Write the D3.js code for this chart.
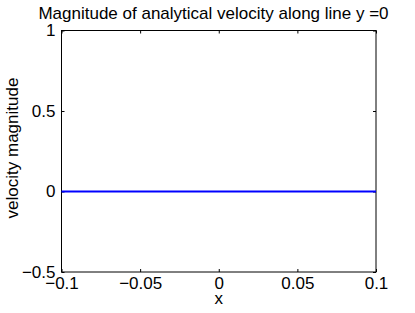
<!DOCTYPE html>
<html>
<head>
<meta charset="utf-8">
<script src="https://cdn.jsdelivr.net/npm/d3@7"></script>
<style>
  body { margin: 0; background: #fff; }
  text { font-family: "Liberation Sans", Arial, sans-serif; fill: #000; }
</style>
</head>
<body>
<div id="container"></div>
<script>
// data
var xValues = [-0.1, -0.05, 0, 0.05, 0.1];
var velocity = [0, 0, 0, 0, 0];
var xTicks = [-0.1, -0.05, 0, 0.05, 0.1];
var yTicks = [-0.5, 0, 0.5, 1];

var width = 415;
var height = 313;
var margin = { top: 30.5, right: 39, bottom: 41, left: 61.5 };

var svg = d3.select("#container")
    .append("svg")
    .attr("width", width)
    .attr("height", height);

var x = d3.scaleLinear()
    .domain([-0.1, 0.1])
    .range([margin.left, width - margin.right]);

var y = d3.scaleLinear()
    .domain([-0.5, 1])
    .range([height - margin.bottom, margin.top]);

function fmt(d) {
    return String(d).replace("-", "\u2212");
}

// axes box
svg.append("rect")
    .attr("x", x(-0.1))
    .attr("y", y(1))
    .attr("width", x(0.1) - x(-0.1))
    .attr("height", y(-0.5) - y(1))
    .attr("fill", "none")
    .attr("stroke", "#000")
    .attr("stroke-width", 1);

// ticks point inward on all four sides
var xAxis = svg.append("g")
    .attr("transform", "translate(0," + y(-0.5) + ")")
    .call(d3.axisBottom(x).tickValues(xTicks).tickSizeInner(-3).tickSizeOuter(0).tickPadding(7).tickFormat(fmt));
svg.append("g")
    .attr("transform", "translate(0," + y(1) + ")")
    .call(d3.axisTop(x).tickValues(xTicks).tickSizeInner(-3).tickSizeOuter(0).tickFormat(""));

svg.append("g")
    .attr("transform", "translate(" + x(-0.1) + ",0)")
    .call(d3.axisLeft(y).tickValues(yTicks).tickSizeInner(-3).tickSizeOuter(0).tickPadding(6).tickFormat(fmt));
svg.append("g")
    .attr("transform", "translate(" + x(0.1) + ",0)")
    .call(d3.axisRight(y).tickValues(yTicks).tickSizeInner(-3).tickSizeOuter(0).tickFormat(""));

svg.selectAll(".domain").remove();
svg.selectAll(".tick line").attr("stroke", "#000");
svg.selectAll(".tick text")
    .style("font-family", "Liberation Sans, Arial, sans-serif")
    .style("font-size", "17px")
    .attr("fill", "#000");
xAxis.selectAll(".tick text").attr("dy", "0.6em");

// line
var line = d3.line()
    .x(function (d, i) { return x(xValues[i]); })
    .y(function (d) { return y(d); });

svg.append("path")
    .datum(velocity)
    .attr("d", line)
    .attr("fill", "none")
    .attr("stroke", "#0000ff")
    .attr("stroke-width", 2);

// labels
svg.append("text")
    .attr("x", 213.5)
    .attr("y", 19)
    .attr("text-anchor", "middle")
    .style("font-size", "17px")
    .text("Magnitude of analytical velocity along line y =0");

svg.append("text")
    .attr("x", (x(-0.1) + x(0.1)) / 2)
    .attr("y", 304)
    .attr("text-anchor", "middle")
    .style("font-size", "17px")
    .text("x");

svg.append("text")
    .attr("transform", "translate(18,148) rotate(-90)")
    .attr("text-anchor", "middle")
    .style("font-size", "17px")
    .text("velocity magnitude");
</script>
</body>
</html>
